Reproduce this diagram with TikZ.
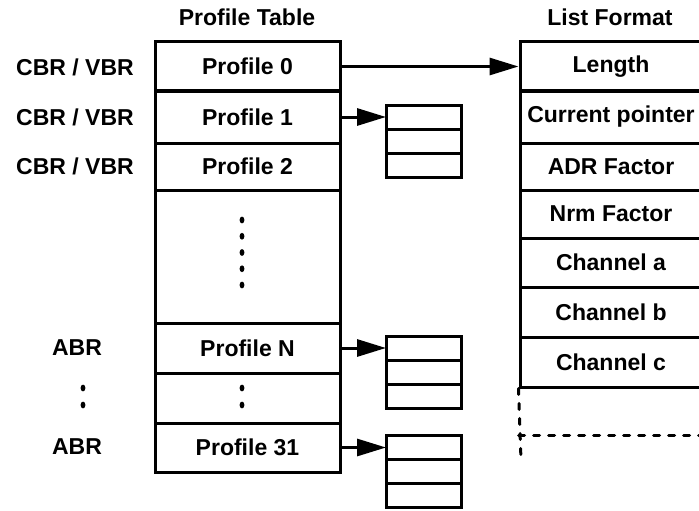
\documentclass[tikz,border=0pt]{standalone}
\usepackage{fontspec}
\setmainfont{Liberation Sans}
\usetikzlibrary{arrows.meta,positioning}

\begin{document}
\begin{tikzpicture}[x=1pt,y=-1pt,font=\fontsize{23}{25}\selectfont\bfseries,
  cell/.style={draw,line width=3pt,inner sep=0pt,minimum width=185,minimum height=#1},
  fmt/.style={draw,line width=3pt,inner sep=0pt,minimum width=182,minimum height=#1},
  slot/.style={draw,line width=3pt,inner sep=0pt,outer sep=0pt,minimum width=75,minimum height=24},
  ptr/.style={line width=3pt,-{Triangle[length=29pt,width=17pt]}},
  dots/.style={line width=3pt,dash pattern=on 6pt off 9pt,line cap=round}]
 \useasboundingbox (0,0) rectangle (699,511);
 % profile table
 \node at (247,17) {Profile Table};
 \node[cell=49] (p0) at (247.5,66.5) {Profile 0};
 \node[cell=52] (p1) at (247.5,117) {Profile 1};
 \node[cell=47] (p2) at (247.5,166.5) {Profile 2};
 \node[cell=133] (pgap) at (247.5,256.5) {};
 \node[cell=50] (pN) at (247.5,348) {Profile N};
 \node[cell=50] (pdots) at (247.5,398) {};
 \node[cell=49] (p31) at (247.5,447.5) {Profile 31};
 \foreach \y in {220,236.25,252.5,268.75,285} \fill (242,\y) ellipse (2.4 and 3.4);
 \foreach \y in {388,405} {\fill (242,\y) ellipse (2.4 and 3.4);\fill (83,\y) ellipse (2.4 and 3.4);}
 % traffic classes
 \node (c0) at (75,67) {CBR / VBR};
 \node (c1) at (75,117) {CBR / VBR};
 \node (c2) at (75,166) {CBR / VBR};
 \node (aN) at (77,348) {ABR};
 \node (a31) at (77,447) {ABR};
 % list format
 \node at (610,17) {List Format};
 \node[fmt=49] (len) at (611,66.5) {Length};
 \node[fmt=52] (cur) at (611,117) {Current pointer};
 \node[fmt=47] (adr) at (611,166.5) {ADR Factor};
 \node[fmt=48] (nrm) at (611,214) {Nrm Factor};
 \node[fmt=49] (cha) at (611,262.5) {Channel a};
 \node[fmt=50] (chb) at (611,312) {Channel b};
 \node[fmt=50] (chc) at (611,362) {Channel c};
 \coordinate (lend) at (521,460);
 \coordinate (rend) at (702,435);
 \draw[dots] (chc.south west) -- (lend);
 \draw[dots] (chc.south west |- rend) -- (rend);
 % small lists
 \node[slot] (b1a) at (423.5,117) {};
 \node[slot,below=0pt of b1a] (b1b) {};
 \node[slot,below=0pt of b1b] (b1c) {};
 \node[slot] (b2a) at (423.5,348) {};
 \node[slot,below=0pt of b2a] (b2b) {};
 \node[slot,below=0pt of b2b] (b2c) {};
 \node[slot] (b3a) at (423.5,447.5) {};
 \node[slot,below=0pt of b3a] (b3b) {};
 \node[slot,below=0pt of b3b] (b3c) {};
 % pointers
 \draw[ptr] (p0.east) -- (len.west);
 \draw[ptr] (p1.east) -- (b1a.west);
 \draw[ptr] (pN.east) -- (b2a.west);
 \draw[ptr] (p31.east) -- (b3a.west);
\end{tikzpicture}
\end{document}
